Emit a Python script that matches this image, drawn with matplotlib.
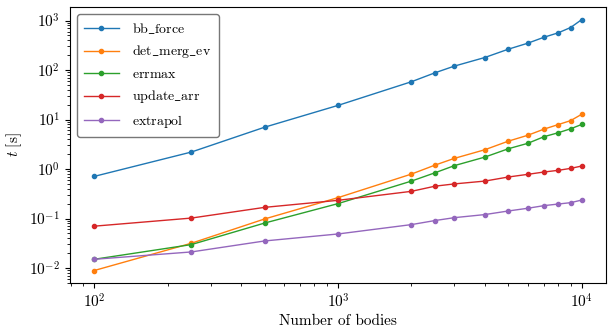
import matplotlib
matplotlib.use("Agg")
import matplotlib.pyplot as plt

plt.rcParams["font.family"] = ["cmr10", "DejaVu Serif"]
plt.rcParams["mathtext.fontset"] = "cm"
plt.rcParams["axes.formatter.use_mathtext"] = True

n_bodies = [100, 250, 500, 1000, 2000, 2500, 3000, 4000, 5000, 6000, 7000, 8000, 9000, 10000]

bb_force = [0.71, 2.2, 7.0, 19.3, 58, 88, 120, 179, 264, 348, 460, 564, 723, 1047]
det_merg_ev = [0.0089, 0.0316, 0.098, 0.264, 0.79, 1.20, 1.64, 2.45, 3.66, 4.8, 6.4, 7.9, 9.5, 12.8]
errmax = [0.015, 0.0297, 0.081, 0.20, 0.57, 0.84, 1.17, 1.74, 2.57, 3.3, 4.5, 5.4, 6.5, 7.96]
update_arr = [0.070, 0.102, 0.168, 0.233, 0.354, 0.45, 0.50, 0.57, 0.69, 0.78, 0.87, 0.94, 1.03, 1.15]
extrapol = [0.015, 0.0211, 0.0352, 0.0487, 0.0753, 0.091, 0.104, 0.12, 0.142, 0.161, 0.182, 0.196, 0.209, 0.236]

series = [
    (r"$\mathrm{bb\_force}$", bb_force),
    (r"$\mathrm{det\_merg\_ev}$", det_merg_ev),
    (r"$\mathrm{errmax}$", errmax),
    (r"$\mathrm{update\_arr}$", update_arr),
    (r"$\mathrm{extrapol}$", extrapol),
]

fig = plt.figure(figsize=(6.08, 3.33), dpi=100)
ax = fig.add_axes([0.115, 0.150, 0.882, 0.829])

for label, vals in series:
    ax.plot(n_bodies, vals, marker="o", markersize=3, linewidth=1.0, label=label)

ax.set_xscale("log")
ax.set_yscale("log")
ax.set_xlabel("Number of bodies", fontsize=11, labelpad=2)
ax.set_ylabel(r"$t\ [\mathrm{s}]$", fontsize=11)
ax.tick_params(labelsize=11)

leg = ax.legend(loc="upper left", fontsize=10, handlelength=2.5, borderpad=0.5,
                labelspacing=0.55, handletextpad=1.0)
leg.get_frame().set_edgecolor("#555555")

fig.savefig("out.png", dpi=100)
